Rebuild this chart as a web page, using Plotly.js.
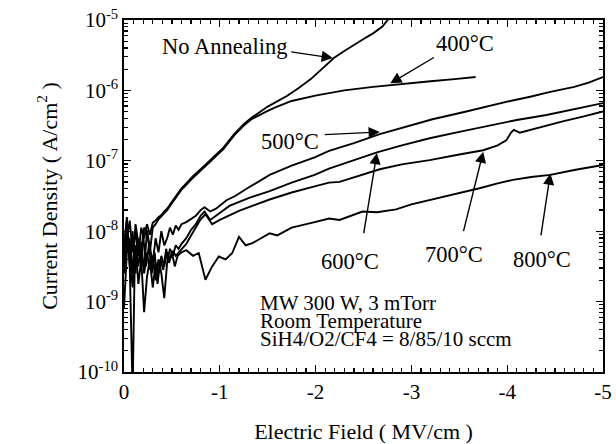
<!DOCTYPE html>
<html><head><meta charset="utf-8">
<script src="https://cdn.plot.ly/plotly-3.0.1.min.js"></script>
<style>html,body{margin:0;padding:0;background:#fff}</style>
</head><body><div id="chart" style="width:616px;height:444px"></div>
<script>
// Electric field (MV/cm) and log10 of current density (A/cm^2)
const E_early = [0, -0.03, -0.06, -0.09, -0.12, -0.15, -0.18, -0.21, -0.24, -0.27, -0.30, -0.33, -0.36, -0.39, -0.42, -0.45, -0.48, -0.51, -0.54, -0.57, -0.60];

const na_E = E_early.concat([-0.63, -0.72, -0.84, -0.95, -1.04, -1.15, -1.25, -1.33, -1.41, -1.50, -1.58, -1.70, -1.82, -1.95, -2.07, -2.19, -2.30, -2.40, -2.50, -2.60, -2.66, -2.70, -2.74, -2.77]);
const na_logJ = [-8.55, -8.10, -7.85, -8.30, -8.00, -8.35, -7.95, -8.10, -7.90, -8.05, -7.88, -7.85, -7.80, -7.77, -7.72, -7.68, -7.62, -7.56, -7.50, -7.44, -7.39,
  -7.35, -7.22, -7.07, -6.93, -6.81, -6.62, -6.48, -6.39, -6.31, -6.23, -6.17, -6.08, -5.97, -5.84, -5.69, -5.54, -5.44, -5.35, -5.27, -5.19, -5.13, -5.09, -5.02, -4.97];

const a400_E = E_early.concat([-0.63, -0.72, -0.84, -0.95, -1.04, -1.15, -1.25, -1.33, -1.41, -1.50, -1.58, -1.75, -2.01, -2.30, -2.60, -2.88, -3.20, -3.45, -3.67]);
const a400_logJ = [-8.40, -7.90, -8.25, -8.55, -7.90, -8.20, -8.45, -7.95, -8.00, -8.30, -7.95, -7.90, -7.83, -7.79, -7.75, -7.70, -7.64, -7.58, -7.52, -7.46, -7.41,
  -7.37, -7.24, -7.09, -6.95, -6.83, -6.64, -6.50, -6.41, -6.35, -6.29, -6.24, -6.15, -6.07, -6.00, -5.95, -5.91, -5.87, -5.84, -5.81];

const a500_E = E_early.concat([-0.65, -0.70, -0.75, -0.80, -0.84, -0.90, -0.96, -1.07, -1.16, -1.30, -1.52, -1.75, -1.99, -2.14, -2.40, -2.67, -2.88, -3.00, -3.22, -3.54, -3.75, -4.00, -4.24, -4.45, -4.70, -4.85, -5.00]);
const a500_logJ = [-8.20, -7.80, -8.50, -8.00, -8.60, -8.10, -8.30, -8.55, -8.00, -8.20, -8.45, -8.10, -8.30, -8.00, -8.20, -8.10, -7.95, -8.05, -7.92, -7.98, -7.90,
  -7.87, -7.82, -7.78, -7.70, -7.66, -7.72, -7.68, -7.56, -7.50, -7.38, -7.20, -7.07, -6.95, -6.86, -6.75, -6.62, -6.54, -6.49, -6.41, -6.31, -6.24, -6.16, -6.09, -6.02, -5.95, -5.89, -5.81];

const a600_E = E_early.concat([-0.65, -0.70, -0.75, -0.80, -0.84, -0.90, -0.96, -1.10, -1.30, -1.52, -1.75, -1.99, -2.14, -2.40, -2.64, -2.90, -3.19, -3.50, -3.75, -4.10, -4.41, -4.70, -5.00]);
const a600_logJ = [-8.60, -8.00, -8.35, -8.80, -8.20, -8.50, -8.15, -8.60, -8.30, -8.55, -8.35, -8.70, -8.40, -8.60, -8.95, -8.45, -8.25, -8.35, -8.20, -8.25, -8.18,
  -8.10, -7.98, -7.90, -7.78, -7.72, -7.84, -7.78, -7.64, -7.53, -7.43, -7.31, -7.20, -7.11, -6.99, -6.88, -6.78, -6.68, -6.59, -6.52, -6.42, -6.35, -6.27, -6.18];

const a700_E = E_early.concat([-0.65, -0.70, -0.75, -0.80, -0.85, -0.92, -1.00, -1.20, -1.52, -1.75, -2.00, -2.14, -2.25, -2.45, -2.67, -2.90, -3.19, -3.50, -3.75, -3.90, -3.99, -4.04, -4.07, -4.13, -4.35, -4.58, -4.80, -5.00]);
const a700_logJ = [-9.10, -8.30, -8.10, -8.60, -8.20, -8.75, -8.40, -9.15, -8.65, -8.40, -8.80, -8.45, -8.60, -8.35, -8.50, -8.30, -8.40, -8.28, -8.35, -8.30, -8.25,
  -8.18, -8.06, -7.95, -7.83, -7.76, -7.90, -7.84, -7.71, -7.55, -7.45, -7.36, -7.31, -7.30, -7.21, -7.12, -7.05, -6.99, -6.91, -6.85, -6.78, -6.71, -6.60, -6.56, -6.60, -6.52, -6.44, -6.37, -6.30];

const a800_E = [0, -0.03, -0.06, -0.08, -0.09, -0.11, -0.14, -0.17, -0.20, -0.23, -0.26, -0.29, -0.32, -0.35, -0.38, -0.41, -0.44, -0.47, -0.50, -0.53, -0.56, -0.60, -0.65, -0.72, -0.78, -0.85, -0.92, -0.99, -1.06, -1.13, -1.20, -1.27, -1.34, -1.43, -1.52, -1.60, -1.75, -1.99, -2.14, -2.25, -2.40, -2.49, -2.64, -2.84, -3.00, -3.19, -3.45, -3.71, -3.90, -4.06, -4.25, -4.45, -4.70, -5.00];
const a800_logJ = [-8.30, -7.85, -8.50, -10.3, -10.3, -8.60, -8.10, -8.45, -8.05, -8.50, -8.20, -8.60, -8.30, -8.75, -8.40, -8.55, -8.25, -8.45, -8.30, -8.50, -8.35, -8.30, -8.27, -8.35, -8.31, -8.69, -8.50, -8.36, -8.40, -8.31, -8.08, -8.20, -8.17, -8.10, -8.03, -8.06, -7.95, -7.87, -7.82, -7.84, -7.77, -7.72, -7.73, -7.69, -7.62, -7.56, -7.47, -7.39, -7.32, -7.27, -7.23, -7.20, -7.13, -7.06];

const xTickVals = [0, -1, -2, -3, -4, -5];
const xTickText = ['0', '-1', '-2', '-3', '-4', '-5'];
const yTickExp = [-10, -9, -8, -7, -6, -5];
const yTickText = yTickExp.map(p => '10<sup>' + p + '</sup>');

const series = [
  [na_E, na_logJ], [a400_E, a400_logJ], [a500_E, a500_logJ],
  [a600_E, a600_logJ], [a700_E, a700_logJ], [a800_E, a800_logJ]
];

const traces = series.map(s => ({
  x: s[0], y: s[1].map(v => Math.pow(10, v)),
  type: 'scatter', mode: 'lines',
  line: {color: '#000', width: 1.9}, hoverinfo: 'skip'
}));

const yMinor = [];
for (let p = -10; p < -5; p++) for (let k = 2; k <= 9; k++) yMinor.push(k * Math.pow(10, p));

const serif = 'Liberation Serif';
const labFont = {family: serif, size: 22.5, color: '#000'};
const boxFont = {family: serif, size: 21, color: '#000'};

function txt(t, x, y, opts) {
  return Object.assign({text: t, x: x, y: y, xref: 'x', yref: 'y', showarrow: false, font: labFont}, opts || {});
}
function arr(x0, y0, x1, y1) {
  return {text: '', x: x1, y: y1, ax: x0, ay: y0, xref: 'x', yref: 'y', axref: 'x', ayref: 'y',
    showarrow: true, arrowhead: 2, arrowsize: 1.6, arrowwidth: 1.4, arrowcolor: '#000', standoff: 0, startstandoff: 0};
}

const annotations = [
  txt('No Annealing', -1.05, -5.38),
  arr(-1.73, -5.45, -2.18, -5.54),
  txt('400°C', -3.56, -5.33),
  arr(-3.25, -5.52, -2.78, -5.90),
  txt('500°C', -1.73, -6.73),
  arr(-2.08, -6.63, -2.67, -6.59),
  txt('600°C', -2.36, -8.43),
  arr(-2.50, -8.05, -2.64, -6.89),
  txt('700°C', -3.44, -8.33),
  arr(-3.54, -8.02, -3.75, -6.87),
  txt('800°C', -4.36, -8.40),
  arr(-4.35, -8.08, -4.45, -7.18),
  txt('MW 300 W, 3 mTorr', -1.40, -9.02, {xanchor: 'left', font: boxFont}),
  txt('Room Temperature', -1.40, -9.28, {xanchor: 'left', font: boxFont}),
  txt('SiH4/O2/CF4 = 8/85/10 sccm', -1.40, -9.53, {xanchor: 'left', font: boxFont})
];

const layout = {
  width: 616, height: 444,
  margin: {l: 124, r: 13, t: 20, b: 72},
  paper_bgcolor: '#fff', plot_bgcolor: '#fff',
  showlegend: false, hovermode: false,
  font: {family: serif, color: '#000', size: 20},
  xaxis: {
    range: [0, -5], tickmode: 'array', tickvals: xTickVals, ticktext: xTickText,
    ticks: 'inside', ticklen: 7, tickwidth: 1.3, tickcolor: '#000',
    showline: true, linecolor: '#000', linewidth: 1.6, mirror: 'allticks',
    showgrid: false, zeroline: false,
    minor: {tickmode: 'linear', dtick: 0.1, tick0: 0, ticks: 'inside', ticklen: 4, tickwidth: 1.2, tickcolor: '#000', showgrid: false},
    tickfont: {family: serif, size: 21, color: '#000'},
    title: {text: 'Electric Field ( MV/cm )', font: {family: serif, size: 22, color: '#000'}, standoff: 21}
  },
  yaxis: {
    type: 'log', range: [-10, -5], tickmode: 'array',
    tickvals: yTickExp.map(p => Math.pow(10, p)), ticktext: yTickText,
    ticks: 'inside', ticklen: 7, tickwidth: 1.3, tickcolor: '#000',
    showline: true, linecolor: '#000', linewidth: 1.6, mirror: 'allticks',
    showgrid: false, zeroline: false,
    minor: {tickmode: 'array', tickvals: yMinor, ticks: 'inside', ticklen: 4, tickwidth: 1.2, tickcolor: '#000', showgrid: false},
    tickfont: {family: serif, size: 21, color: '#000'},
    title: {text: 'Current Density ( A/cm<sup>2</sup> )', font: {family: serif, size: 22, color: '#000'}, standoff: 14}
  },
  annotations: annotations
};

Plotly.newPlot('chart', traces, layout, {staticPlot: true, displayModeBar: false});
</script></body></html>
